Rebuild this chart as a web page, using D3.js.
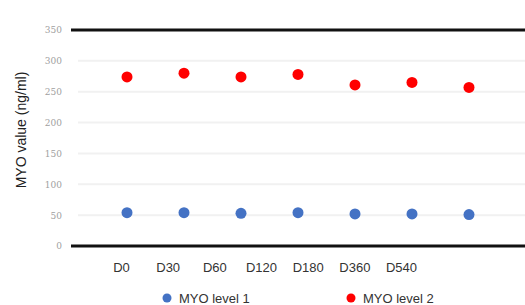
<!DOCTYPE html>
<html>
<head>
<meta charset="utf-8">
<script src="https://cdn.jsdelivr.net/npm/d3@7"></script>
<style>
  body { margin: 0; background: #fff; }
  svg { display: block; font-family: "Liberation Sans", Arial, sans-serif; }
</style>
</head>
<body>
<svg id="chart" width="525" height="305"></svg>
<script>
// categories / series
const days = ["D0", "D30", "D60", "D120", "D180", "D360", "D540"];
const level1 = [54, 54, 53, 54, 52, 52, 51];
const level2 = [274, 280, 274, 278, 261, 265, 257];
const yTicks = [0, 50, 100, 150, 200, 250, 300, 350];
const seriesNames = ["MYO level 1", "MYO level 2"];
const seriesColors = ["#4472c4", "#ff0000"];

const svg = d3.select("#chart");

const y = d3.scaleLinear().domain([0, 350]).range([246, 30]);
// points sit on one grid, the day labels on a slightly shifted one
const xPts = d3.scalePoint().domain(d3.range(days.length)).range([127, 469]);
const xLab = d3.scalePoint().domain(days).range([121, 401]);

// faint gridlines
svg.append("g")
  .selectAll("line")
  .data(yTicks.filter((d) => d > 0 && d < 350))
  .enter()
  .append("line")
  .attr("x1", 78)
  .attr("x2", 525)
  .attr("y1", (d) => y(d))
  .attr("y2", (d) => y(d))
  .attr("stroke", "#f1f1f1")
  .attr("stroke-width", 2);

// y axis labels
const yAxis = d3.axisLeft(y).tickValues(yTicks).tickSize(0).tickPadding(0);
svg.append("g")
  .attr("transform", "translate(62,0)")
  .call(yAxis)
  .call((g) => g.select(".domain").remove())
  .selectAll("text")
  .attr("font-family", "'DejaVu Serif', serif")
  .attr("font-size", 9)
  .attr("fill", "#a0a0a0");

// heavy black lines at 0 and 350
svg.append("g")
  .selectAll("line")
  .data([0, 350])
  .enter()
  .append("line")
  .attr("x1", 71)
  .attr("x2", 525)
  .attr("y1", (d) => y(d))
  .attr("y2", (d) => y(d))
  .attr("stroke", "#111")
  .attr("stroke-width", 3);

// x labels
const xAxis = d3.axisBottom(xLab).tickSize(0).tickPadding(0);
svg.append("g")
  .attr("transform", "translate(0,263)")
  .call(xAxis)
  .call((g) => g.select(".domain").remove())
  .selectAll("text")
  .attr("font-family", "'Liberation Sans', Arial, sans-serif")
  .attr("font-size", 13)
  .attr("fill", "#333");

// y title
svg.append("text")
  .attr("transform", "translate(26,130) rotate(-90)")
  .attr("text-anchor", "middle")
  .attr("font-size", 14)
  .attr("fill", "#222")
  .text("MYO value (ng/ml)");

// points
[level1, level2].forEach((vals, k) => {
  svg.append("g")
    .selectAll("circle")
    .data(vals)
    .enter()
    .append("circle")
    .attr("cx", (d, i) => xPts(i))
    .attr("cy", (d) => y(d))
    .attr("r", 5.5)
    .attr("fill", seriesColors[k]);
});

// legend
const legendX = [167, 351];
const legend = svg.append("g")
  .selectAll("g")
  .data(seriesNames)
  .enter()
  .append("g")
  .attr("transform", (d, i) => "translate(" + legendX[i] + ",298)");

legend.append("circle")
  .attr("r", 4.5)
  .attr("fill", (d, i) => seriesColors[i]);

legend.append("text")
  .attr("x", 12)
  .attr("y", 5)
  .attr("font-size", 13)
  .attr("fill", "#333")
  .text((d) => d);
</script>
</body>
</html>
